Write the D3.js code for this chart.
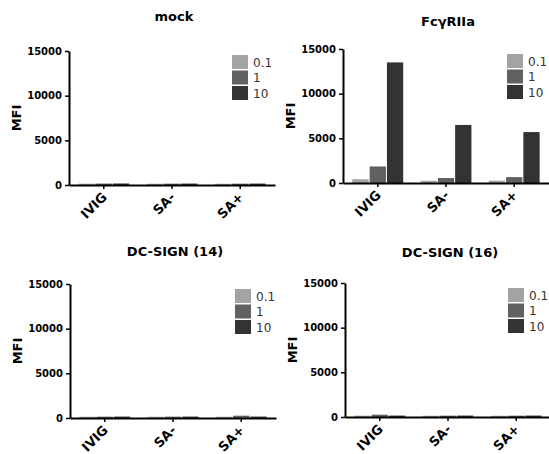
<!DOCTYPE html>
<html>
<head>
<meta charset="utf-8">
<script src="https://cdn.jsdelivr.net/npm/d3@7"></script>
<style>
  body { margin: 0; background: #fff; }
  text { font-family: "DejaVu Sans", Verdana, sans-serif; }
</style>
</head>
<body>
<svg width="549" height="454"></svg>
<script>
const categories = ["IVIG", "SA-", "SA+"];
const doses = ["0.1", "1", "10"];
const yTicks = [0, 5000, 10000, 15000];
const colors = ["#a3a3a3", "#616161", "#333333"];

// values per category, in dose order 0.1, 1, 10
const mockValues = [[150, 160, 170], [140, 150, 160], [140, 150, 160]];
const fcValues = [[420, 1850, 13500], [250, 560, 6500], [260, 660, 5700]];
const dc14Values = [[140, 150, 160], [140, 150, 160], [140, 260, 160]];
const dc16Values = [[150, 260, 160], [140, 150, 160], [140, 150, 160]];

const panels = [
	{ title: "mock", values: mockValues, x: 69, top: 51, bottom: 185, ty: 21, legend: [232, 55] },
	{ title: "FcγRIIa", values: fcValues, x: 343, top: 49, bottom: 183, ty: 26, legend: [507, 54] },
	{ title: "DC-SIGN (14)", values: dc14Values, x: 70, top: 284, bottom: 418, ty: 256, legend: [235, 289] },
	{ title: "DC-SIGN (16)", values: dc16Values, x: 345, top: 283, bottom: 417, ty: 257, legend: [508, 288] },
];

const svg = d3.select("svg");

panels.forEach((p) => {
	const g = svg.append("g");
	const xScale = d3.scaleBand().domain(categories).range([p.x, p.x + 206])
		.paddingInner(0.24).paddingOuter(0.13);
	const inner = d3.scaleBand().domain(doses).range([0, xScale.bandwidth()]);
	const yScale = d3.scaleLinear().domain([0, 15000]).range([p.bottom, p.top]);

	// title
	g.append("text")
		.attr("x", p.x + 105).attr("y", p.ty)
		.attr("text-anchor", "middle")
		.attr("font-size", 13).attr("font-weight", "bold")
		.text(p.title);

	// bars
	const groups = g.selectAll(".grp").data(p.values).enter().append("g")
		.attr("transform", (d, i) => `translate(${xScale(categories[i])},0)`);
	groups.selectAll("rect").data((d) => d).enter().append("rect")
		.attr("x", (d, i) => inner(doses[i]) + 0.5)
		.attr("width", inner.bandwidth() - 1)
		.attr("y", (d) => yScale(d))
		.attr("height", (d) => p.bottom - yScale(d))
		.attr("fill", (d, i) => colors[i]);

	// y axis
	const yAxis = g.append("g")
		.attr("transform", `translate(${p.x},0)`)
		.call(d3.axisLeft(yScale).tickValues(yTicks).tickSize(4).tickSizeOuter(0).tickFormat(d3.format("d")));
	yAxis.select(".domain").attr("stroke-width", 2);
	yAxis.selectAll(".tick line").attr("stroke-width", 1.5);
	yAxis.selectAll("text").attr("font-size", 10).attr("font-weight", "bold")
		.attr("fill", "#000").attr("font-family", "DejaVu Sans, Verdana, sans-serif");

	// x axis
	const xAxis = g.append("g")
		.attr("transform", `translate(0,${p.bottom})`)
		.call(d3.axisBottom(xScale).tickSize(4).tickSizeOuter(0));
	xAxis.select(".domain").attr("stroke-width", 2);
	xAxis.selectAll(".tick line").attr("stroke-width", 1.5);
	xAxis.selectAll("text")
		.attr("font-size", 13).attr("font-weight", "bold").attr("fill", "#000")
		.attr("font-family", "DejaVu Sans, Verdana, sans-serif")
		.attr("text-anchor", "end")
		.attr("dy", null).attr("y", null)
		.attr("transform", "translate(4,13) rotate(-45)");

	// y label
	g.append("text")
		.attr("transform", `translate(${p.x - 48},${(p.top + p.bottom) / 2}) rotate(-90)`)
		.attr("text-anchor", "middle").attr("font-size", 13).attr("font-weight", "bold")
		.text("MFI");

	// legend
	const leg = g.selectAll(".leg").data(doses).enter().append("g")
		.attr("transform", (d, i) => `translate(${p.legend[0]},${p.legend[1] + i * 15.5})`);
	leg.append("rect").attr("width", 16).attr("height", 14)
		.attr("fill", (d, i) => colors[i]);
	leg.append("text").attr("x", 21).attr("y", 11.5)
		.attr("font-size", 12).attr("fill", "#333").text((d) => d);
});
</script>
</body>
</html>
